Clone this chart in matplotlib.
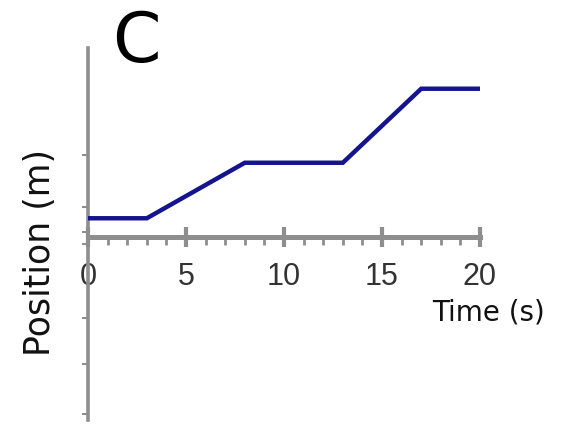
import matplotlib
matplotlib.use('Agg')
import matplotlib.pyplot as plt

# position-time graph "C"
time = [0, 3, 8, 13, 17, 20]
position = [1, 1, 4, 4, 8, 8]

x_major = [0, 5, 10, 15, 20]
x_labels = ['0', '5', '10', '15', '20']
x_minor = [1, 2, 3, 4, 6, 7, 8, 9, 11, 12, 13, 14, 16, 17, 18, 19]
y_ticks = [4.4, 1.6, 0.25, -0.4, -4.4, -6.9, -9.6]

W, H = 562, 426
axis_gray = '#8e8e8e'

plt.rcParams['font.family'] = ['DejaVu Sans']

fig = plt.figure(figsize=(W / 100, H / 100), dpi=100)
ax = fig.add_axes([88 / W, 1 - 420 / H, (480 - 88) / W, (420 - 48) / H])
ax.set_xlim(0, 20)
ax.set_ylim(-9.9, 10.2)

ax.plot(time, position, color='#14148e', lw=3.2, solid_capstyle='butt',
        solid_joinstyle='miter', clip_on=False, zorder=3)

for side in ['top', 'right']:
    ax.spines[side].set_visible(False)
ax.spines['bottom'].set_position(('data', 0))
ax.spines['bottom'].set_color(axis_gray)
ax.spines['bottom'].set_linewidth(3.6)
ax.spines['left'].set_color(axis_gray)
ax.spines['left'].set_linewidth(2.6)

ax.set_xticks(x_major)
ax.set_xticklabels(x_labels, family='Liberation Sans')
ax.set_xticks(x_minor, minor=True)
ax.tick_params(axis='x', which='major', direction='inout', length=15, width=3,
               color=axis_gray, labelsize=22, labelcolor='#333333', pad=11)
ax.tick_params(axis='x', which='minor', direction='out', length=6, width=2,
               color=axis_gray)
ax.set_yticks(y_ticks)
ax.set_yticklabels([])
ax.tick_params(axis='y', direction='out', length=4, width=1.5, color=axis_gray)

fig.text(136 / W, 1 - 62 / H, 'C', fontsize=50, ha='center', va='baseline')
fig.text(488 / W, 1 - 312 / H, 'Time (s)', fontsize=20, ha='center',
         va='center', color='#111111')
fig.text(40 / W, 1 - 253 / H, 'Position (m)', fontsize=25, ha='center',
         va='center', rotation=90, color='#111111')

fig.savefig('out.png', dpi=100)
